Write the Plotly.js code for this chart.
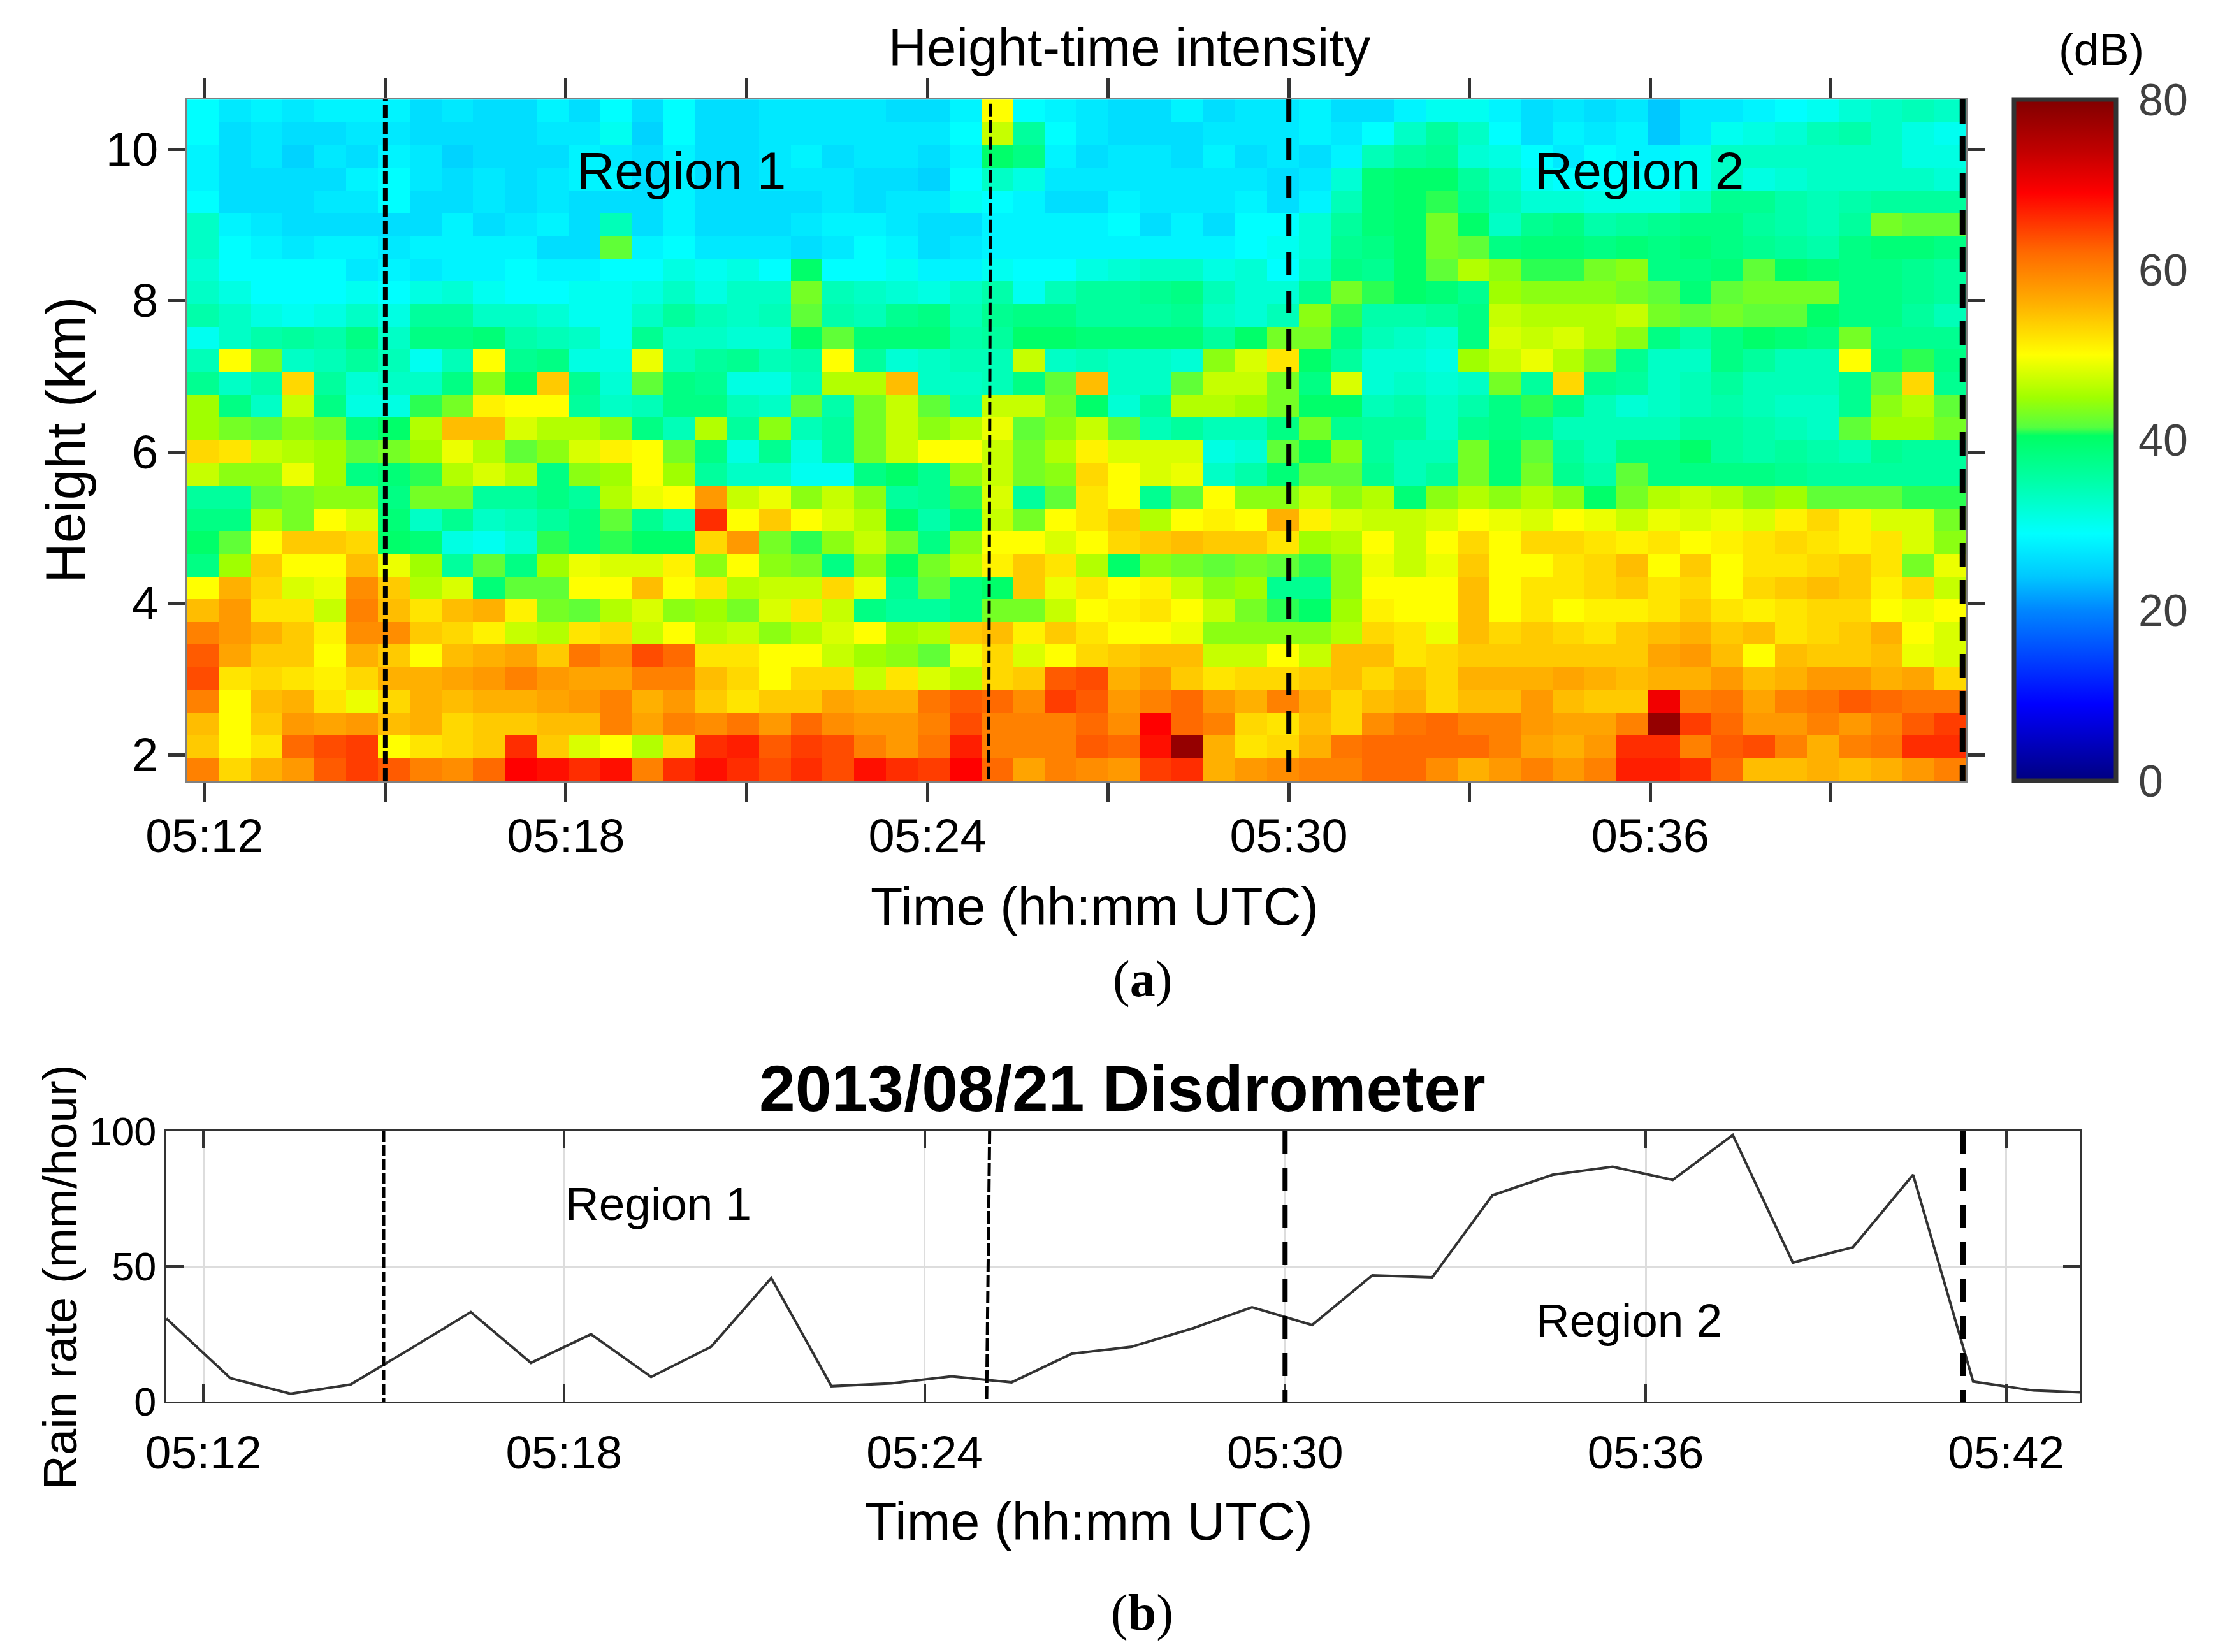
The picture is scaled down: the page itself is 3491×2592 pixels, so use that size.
<!DOCTYPE html>
<html>
<head>
<meta charset="utf-8">
<script src="https://cdn.plot.ly/plotly-3.0.1.min.js"></script>
<style>html,body{margin:0;padding:0;background:#fff}#chart{width:3491px;height:2592px}</style>
</head>
<body>
<div id="chart"></div>
<script>
// Height-time intensity in dB on a coarser grid. Rows run top (10.5 km) to bottom (1.8 km).
const intensityRows = [
[29,27,28,27,28,28,28,26,27,26,26,28,26,29,26,29, 26,26,27,27,27,27,26,26,28,50,29,28,27,26,26,28, 26,27,27,28,26,26,28,30,30,28,26,27,26,27,24,27, 27,28,29,30,32,33,34,33],
[29,26,27,26,26,27,27,26,26,26,26,27,27,30,25,29, 26,26,27,27,27,27,27,27,29,47,36,29,27,26,26,26, 27,27,27,28,27,29,33,36,33,29,26,28,27,28,24,27, 30,31,32,34,35,33,31,30],
[28,26,27,25,27,26,28,27,25,26,26,26,28,27,26,28, 26,26,27,28,26,27,27,26,28,40,38,28,26,27,27,26, 28,26,27,26,28,34,36,37,32,31,29,27,29,28,28,30, 33,33,33,33,33,33,31,31],
[28,26,26,26,26,28,29,27,26,27,26,27,28,28,26,28, 26,26,27,27,27,26,26,25,29,33,31,27,27,27,27,27, 27,27,26,27,32,39,40,40,36,33,30,29,29,29,29,30, 33,31,32,33,33,33,33,32],
[29,26,26,26,27,27,29,26,26,27,26,27,26,26,26,28, 26,26,26,26,27,26,27,27,30,29,28,26,26,28,27,27, 27,28,26,28,34,39,40,41,37,34,32,32,31,31,31,33, 37,37,35,34,35,36,36,36],
[33,28,27,26,26,26,26,26,28,26,27,28,26,34,26,28, 26,26,26,27,28,28,27,26,26,28,28,28,28,29,26,28, 26,29,29,32,36,39,40,43,40,33,37,38,35,36,37,38, 38,36,35,34,36,43,42,42],
[33,29,28,27,28,28,27,28,28,28,28,26,26,42,28,29, 27,27,27,26,27,29,28,26,27,28,28,28,28,28,28,28, 28,29,30,32,37,38,40,43,42,38,39,39,38,39,38,39, 38,37,36,35,38,39,39,38],
[32,29,29,29,29,27,28,27,28,28,29,28,28,29,29,31, 30,31,29,40,29,29,30,28,28,30,29,29,31,32,33,33, 31,32,29,33,38,37,40,42,46,44,41,41,43,44,38,38, 39,42,40,39,38,38,37,36],
[33,31,29,29,29,30,29,31,32,30,29,29,30,30,31,33, 31,33,33,43,34,33,32,31,33,35,30,34,36,36,37,38, 34,32,32,37,43,41,40,39,37,45,44,44,44,43,42,39, 42,43,43,43,38,38,37,36],
[35,33,31,30,31,33,31,36,36,33,33,32,30,30,33,36, 34,33,34,42,35,34,37,38,34,37,38,38,36,36,36,37, 33,32,34,44,41,35,35,36,38,47,46,46,46,47,43,42, 43,42,42,40,38,38,36,34],
[30,33,35,36,35,38,33,38,38,39,35,34,33,30,37,33, 33,32,32,40,42,39,39,39,35,36,40,40,39,39,39,39, 36,40,43,43,38,34,33,32,38,48,47,48,46,44,38,35, 38,40,39,38,43,37,37,37],
[34,50,43,33,34,36,34,30,34,50,37,38,31,31,49,34, 36,37,34,35,50,36,32,33,34,34,47,33,34,33,33,32, 44,48,52,40,36,32,32,31,45,47,49,46,43,37,33,33, 38,36,34,34,50,38,41,38],
[37,33,35,53,36,32,33,33,38,44,40,54,37,32,42,38, 37,31,31,34,46,46,55,33,33,34,38,42,55,33,33,42, 47,47,43,38,48,32,33,32,33,43,36,53,37,36,33,34, 36,34,34,34,37,42,53,37],
[45,38,33,47,38,31,31,41,43,51,50,50,36,33,34,38, 38,34,33,42,35,43,47,42,34,47,47,43,40,32,36,46, 46,45,43,40,40,34,35,33,35,38,41,38,34,32,33,34, 35,34,33,33,37,44,46,42],
[45,43,42,44,43,38,40,46,55,55,48,46,46,44,38,34, 46,36,44,34,36,43,47,44,46,49,42,44,47,42,34,36, 34,34,38,43,37,36,36,33,37,38,37,34,34,34,34,36, 36,35,34,33,42,45,45,43],
[53,52,47,46,45,42,43,45,49,46,42,44,48,51,50,43, 38,31,37,31,36,43,47,50,50,47,43,46,51,48,48,48, 31,32,42,40,44,36,34,34,43,39,42,36,34,38,38,40, 36,35,36,35,34,37,36,36],
[47,44,44,49,45,38,39,41,46,48,46,38,44,45,50,45, 36,33,33,30,30,38,40,37,44,47,43,44,53,50,48,49, 33,35,39,42,42,37,34,36,43,39,43,37,35,42,38,38, 38,38,37,36,36,36,36,36],
[36,36,42,43,44,44,38,43,43,36,36,38,36,46,49,50, 58,47,49,44,47,44,36,37,41,48,36,42,52,50,37,42, 50,44,44,47,44,46,39,44,46,44,46,44,40,43,46,47, 46,44,45,42,42,42,41,41],
[38,38,46,43,50,48,39,33,37,33,34,36,38,42,37,34, 66,50,54,50,48,46,40,35,39,47,43,50,52,54,46,50, 51,50,56,51,48,47,47,48,50,49,48,50,49,47,49,48, 49,48,51,53,51,48,48,43],
[40,42,50,54,54,53,40,39,31,30,32,41,38,41,40,40, 53,58,43,41,44,47,43,38,44,50,50,48,50,53,54,55, 54,54,52,45,46,50,47,50,53,50,53,53,52,51,52,50, 51,52,53,52,51,52,48,44],
[38,45,54,50,50,55,49,45,36,42,38,45,49,48,48,51, 44,50,44,43,38,44,40,43,46,51,54,52,46,40,44,43, 42,43,42,41,44,49,47,49,54,50,50,52,53,55,50,54, 50,52,52,53,54,52,43,49],
[50,56,53,48,49,59,54,46,48,39,42,42,50,50,55,50, 52,46,47,47,53,49,37,42,38,40,54,49,52,50,51,47, 44,45,37,37,44,50,50,50,55,50,52,52,53,54,52,53, 50,53,54,55,54,51,53,47],
[55,58,52,52,47,60,55,52,55,56,51,43,42,46,48,44, 45,43,48,52,47,38,36,36,38,43,43,47,50,51,52,50, 47,43,41,40,45,51,50,50,55,50,52,50,51,51,52,54, 52,51,52,53,53,50,49,50],
[60,58,56,54,51,59,59,54,53,51,47,46,52,53,47,50, 46,47,44,46,48,50,45,46,54,55,51,54,52,50,50,49, 44,44,44,44,46,53,52,49,55,53,54,53,52,54,55,56, 54,55,52,53,54,56,50,48],
[63,57,54,54,50,56,54,50,55,56,57,54,61,59,64,62, 52,52,50,50,47,45,44,42,49,53,48,50,53,54,55,55, 47,47,50,47,55,55,52,53,54,54,54,54,54,54,57,58, 55,50,55,54,54,55,49,48],
[64,52,53,52,51,53,56,56,57,58,60,58,57,57,60,60, 55,53,50,53,53,47,52,48,46,53,54,63,64,56,58,54, 52,53,53,54,55,53,55,53,56,56,56,57,56,55,56,56, 58,55,56,58,58,56,57,53],
[60,50,55,56,52,49,53,56,55,56,56,57,58,60,56,58, 54,52,54,54,57,56,56,61,63,62,59,65,63,58,60,62, 58,56,60,56,53,55,56,53,55,55,58,55,54,54,70,60, 61,57,60,61,63,62,61,61],
[55,50,54,58,57,58,55,56,53,54,54,55,55,60,57,60, 59,61,58,62,59,58,58,60,64,60,60,60,62,59,69,62, 60,53,52,55,53,59,61,62,60,60,58,57,57,60,78,65, 62,58,58,60,58,60,63,65],
[54,50,52,62,64,65,50,52,53,54,66,54,48,50,46,53, 66,67,63,65,64,60,58,61,67,60,60,60,63,62,68,78, 56,52,53,56,61,62,62,62,62,60,57,56,58,66,66,60, 63,64,60,56,60,61,66,66],
[60,53,56,58,63,65,63,60,59,62,69,68,66,68,60,66, 68,66,64,66,64,68,66,65,69,62,57,60,59,58,65,66, 56,58,59,60,60,62,62,59,56,58,60,58,60,67,67,66, 62,55,55,56,55,56,58,60]
];
// Rain rate
const rainTimes = ['05:11:23','05:12:27','05:13:27','05:14:27','05:15:27','05:16:27','05:17:27','05:18:27','05:19:27','05:20:27','05:21:27','05:22:27','05:23:27','05:24:27','05:25:27','05:26:27','05:27:27','05:28:27','05:29:27','05:30:27','05:31:27','05:32:27','05:33:27','05:34:27','05:35:27','05:36:27','05:37:27','05:38:27','05:39:27','05:40:27','05:41:27','05:42:27','05:43:14'];
const rainRate = [30.7,8.6,2.9,6.3,19.6,33.1,14.3,24.9,9.1,20.3,45.7,5.7,6.7,9.3,7.1,17.7,20.3,27,34.9,28.3,46.7,46,76.3,83.9,86.9,82,98.6,51.4,57.1,83.9,7.4,4.1,3.4];
// Tick labels
const topTickTimes = ['05:12','05:15','05:18','05:21','05:24','05:27','05:30','05:33','05:36','05:39'];
const topTickLabels = ['05:12','','05:18','','05:24','','05:30','','05:36',''];
const lowTickTimes = ['05:12','05:18','05:24','05:30','05:36','05:42'];
const heightTicks = [2,4,6,8,10];
const rainTicks = [0,50,100];
const dbTicks = [0,20,40,60,80];
// Region boundaries
const boundaryTimes = ['05:15:00','05:25:03','05:30:00','05:41:11'];

const W = 3491, H = 2592;
const DAY = '2013-08-21 ';
const t = s => DAY + (s.length === 5 ? s + ':00' : s);
const fx = p => p / W, fy = p => 1 - p / H;
const SANS = '"Liberation Sans", Arial, sans-serif';
const SERIF = '"Liberation Serif", "Times New Roman", serif';

const jet = [
 [0,'#000080'],[9/80,'#0000ff'],[20/80,'#0086ff'],[24/80,'#00c8ff'],[29/80,'#00ffff'],[35/80,'#00ffaa'],[40.5/80,'#00ff64'],
 [41.5/80,'#55ff40'],[45/80,'#a0ff00'],[50/80,'#ffff00'],[56/80,'#ffb000'],[62/80,'#ff6a00'],[69/80,'#ff0000'],
 [74/80,'#c00000'],[1,'#800000']
];

const heat = {
  type:'heatmap', xaxis:'x', yaxis:'y',
  z: intensityRows.slice().reverse(),
  x0: t('05:11:58.8'), dx: 31630, y0: 1.805, dy: 0.3,
  zmin:0, zmax:80, colorscale: jet, hoverinfo:'skip',
  colorbar:{
    x: fx(3160), xanchor:'left', xpad:0, ypad:0,
    y: fy(1225), yanchor:'bottom',
    thicknessmode:'pixels', thickness:160, lenmode:'pixels', len:1069,
    tickmode:'array', tickvals: dbTicks, ticktext: dbTicks.map(String),
    ticks:'outside', ticklen:18, tickwidth:1, tickcolor:'#fff',
    outlinewidth:7, outlinecolor:'#333', borderwidth:0,
    tickfont:{family:SANS, size:70, color:'#404040'}
  }
};
const rain = {
  type:'scatter', mode:'lines', xaxis:'x2', yaxis:'y2',
  x: rainTimes.map(t), y: rainRate,
  line:{color:'#333', width:4}, hoverinfo:'skip', showlegend:false
};

function label(text, px, py, size, extra){
  return Object.assign({text, x:fx(px), y:fy(py), xref:'paper', yref:'paper', xanchor:'center', yanchor:'middle',
    showarrow:false, font:{family:SANS, size, color:'#000'}}, extra||{});
}
function divider(xref, yref, a, b, y0, y1, width, dash){
  return {type:'line', xref, yref, x0:t(a), x1:t(b), y0, y1, line:{color:'#000', width, dash}};
}
const barTicks = [20,40,60].map(v => ({type:'line', xref:'paper', yref:'paper',
  x0:fx(3298), x1:fx(3318), y0:fy(1225-v/80*1069), y1:fy(1225-v/80*1069), line:{color:'#222', width:5}}));

const layout = {
  width:W, height:H, margin:{l:0,r:0,t:0,b:0}, paper_bgcolor:'#fff', plot_bgcolor:'#fff', showlegend:false,
  title:{text:'Height-time intensity', x:fx(1772), xanchor:'center', xref:'paper', y:fy(74), yanchor:'middle', yref:'paper', font:{family:SANS, size:83.5, color:'#000'}},
  xaxis:{
    domain:[fx(294),fx(3084)], anchor:'y', type:'date', range:[t('05:11:43'),t('05:41:14')],
    tickmode:'array', tickvals:topTickTimes.map(t), ticktext:topTickLabels,
    ticks:'outside', ticklen:30, tickwidth:5, tickcolor:'#333', mirror:'ticks',
    showline:true, linecolor:'#808080', linewidth:3, showgrid:false, zeroline:false,
    tickfont:{family:SANS, size:74, color:'#000'}, ticklabelstandoff:-10
  },
  yaxis:{
    domain:[fy(1225),fy(156)], anchor:'x', range:[1.655,10.657],
    tickmode:'array', tickvals:heightTicks, ticktext:heightTicks.map(String),
    ticks:'outside', ticklen:28, tickwidth:5, tickcolor:'#333', mirror:'ticks',
    showline:true, linecolor:'#808080', linewidth:3, showgrid:false, zeroline:false,
    tickfont:{family:SANS, size:74, color:'#000'}
  },
  xaxis2:{
    domain:[fx(261),fx(3264)], anchor:'y2', type:'date', range:[t('05:11:23'),t('05:43:14')],
    tickmode:'array', tickvals:lowTickTimes.map(t), ticktext:lowTickTimes,
    ticks:'inside', ticklen:27, tickwidth:4, tickcolor:'#333', mirror:'ticks',
    showline:true, linecolor:'#333', linewidth:3, showgrid:true, gridcolor:'#ddd', gridwidth:3, zeroline:false,
    tickfont:{family:SANS, size:73, color:'#000'}, ticklabelstandoff:14
  },
  yaxis2:{
    domain:[fy(2199),fy(1775)], anchor:'x2', range:[0,100],
    tickmode:'array', tickvals:rainTicks, ticktext:rainTicks.map(String),
    ticks:'inside', ticklen:27, tickwidth:4, tickcolor:'#333', mirror:'ticks',
    showline:true, linecolor:'#333', linewidth:3, showgrid:true, gridcolor:'#ddd', gridwidth:3, zeroline:false,
    tickfont:{family:SANS, size:63, color:'#000'}
  },
  shapes:[
    divider('x','y',boundaryTimes[0],boundaryTimes[0],1.655,10.657,7,'20px,6px'),
    divider('x','y',boundaryTimes[1],'05:25:01',10.6,1.655,5,'20px,6px'),
    divider('x','y',boundaryTimes[2],boundaryTimes[2],10.657,1.655,8,'35px,25px'),
    divider('x','y',boundaryTimes[3],boundaryTimes[3],10.657,1.655,9,'38px,20px'),
    divider('x2','y2',boundaryTimes[0],boundaryTimes[0],100,0,5,'17px,5px'),
    divider('x2','y2','05:25:05','05:25:02',100,0,5,'20px,5px'),
    divider('x2','y2',boundaryTimes[2],boundaryTimes[2],100,0,8,'36px,22px'),
    divider('x2','y2','05:41:17','05:41:17',100,0,9,'36px,22px')
  ].concat(barTicks),
  annotations:[
    label('(dB)',3297,78,71),
    label('Region 1',1069,267,82),
    label('Region 2',2572,267,82),
    label('Time (hh:mm UTC)',1717,1422,82.5),
    label('Height (km)',102,690,87,{textangle:-90}),
    label('(<b>a</b>)',1792,1536,80,{font:{family:SERIF,size:80,color:'#000'}}),
    label('<b>2013/08/21 Disdrometer</b>',1761,1708,102),
    label('Region 1',1033,1888,73),
    label('Region 2',2556,2071,73),
    label('Time (hh:mm UTC)',1708,2387,82.5),
    label('Rain rate (mm/hour)',94,2004,74.5,{textangle:-90}),
    label('(<b>b</b>)',1792,2530,80,{font:{family:SERIF,size:80,color:'#000'}})
  ]
};
Plotly.newPlot('chart',[heat,rain],layout,{staticPlot:true,displayModeBar:false});
</script>
</body>
</html>
